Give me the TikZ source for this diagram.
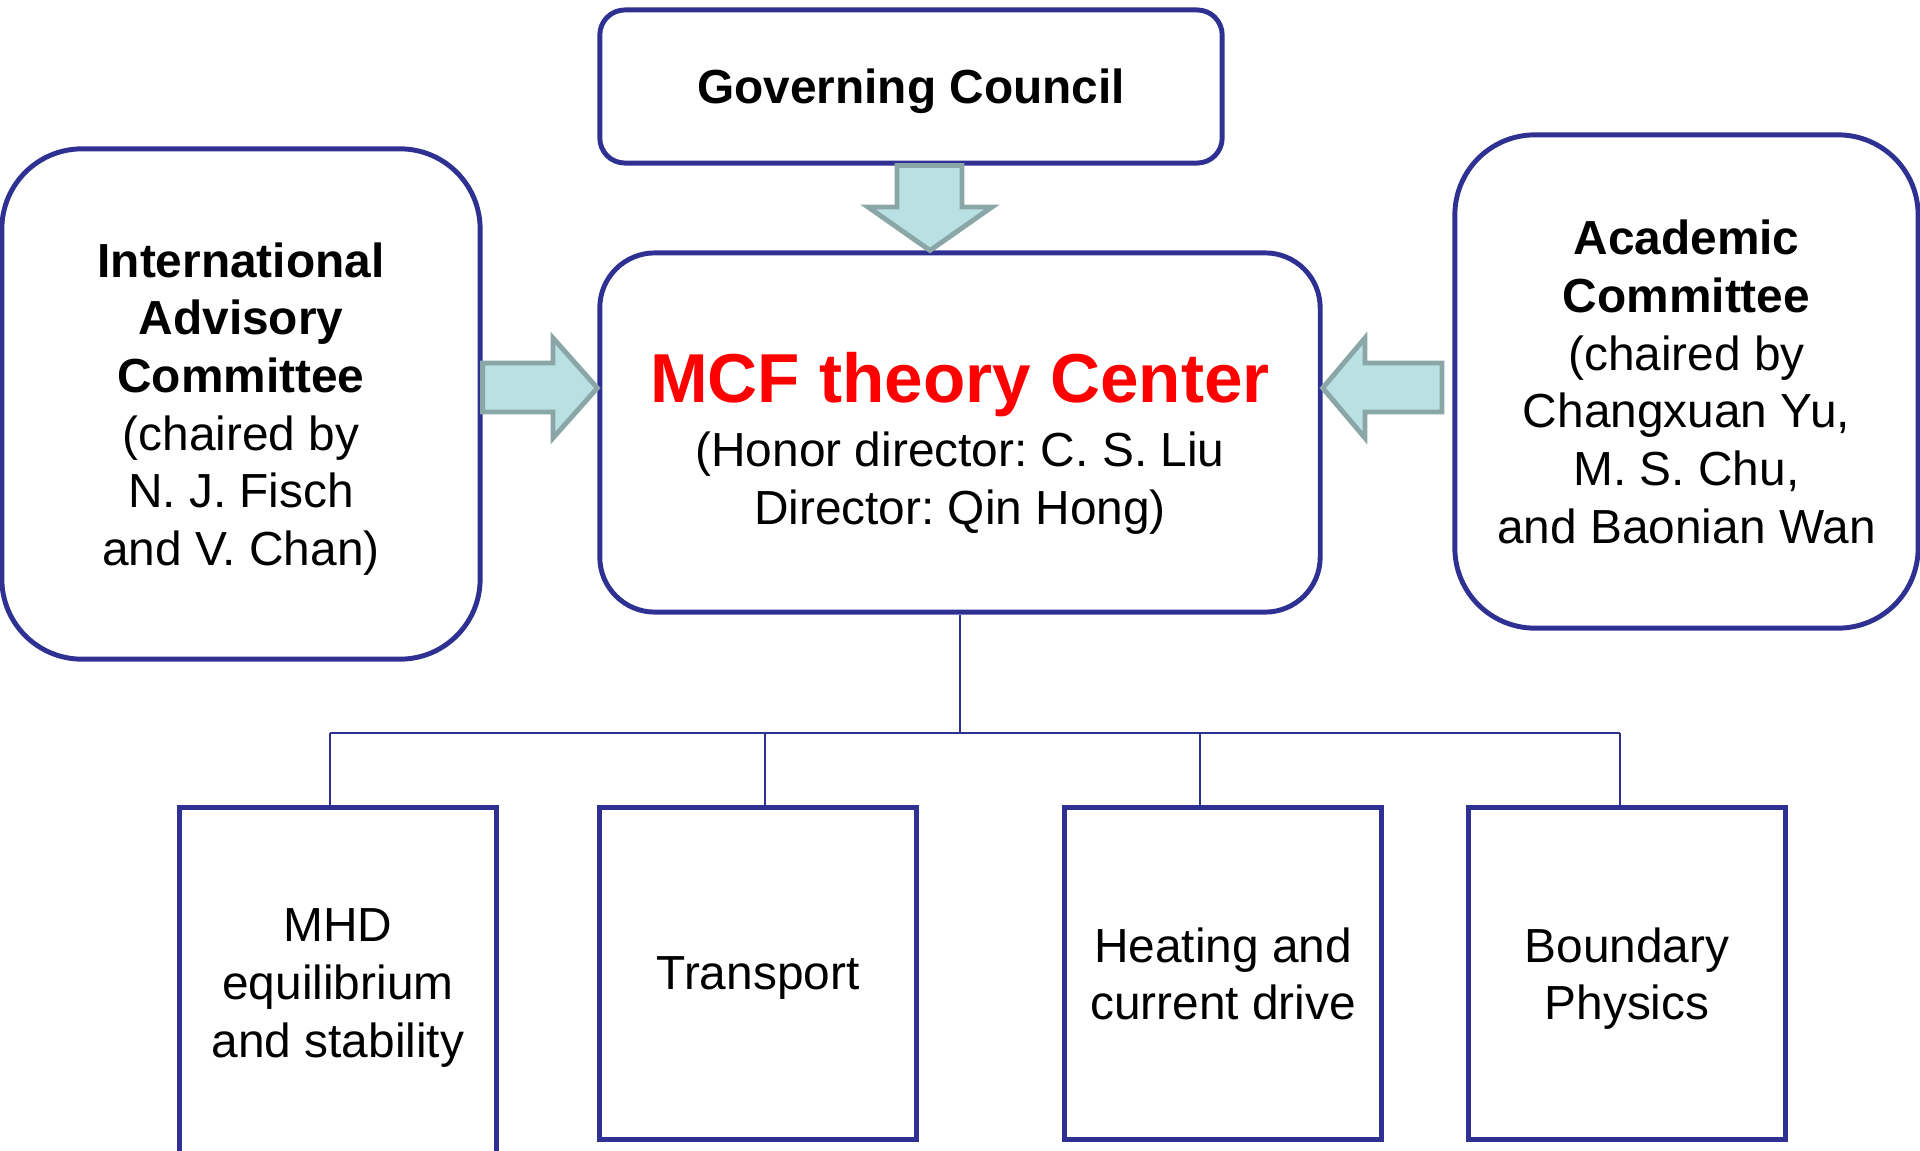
\documentclass[tikz,border=0pt]{standalone}
\usepackage{fontspec}
\setmainfont{Liberation Sans}
\frenchspacing
\definecolor{boxblue}{HTML}{2E3192}
\definecolor{arrowfill}{HTML}{B9E0E2}
\definecolor{arrowline}{HTML}{8AA6A6}
\definecolor{titlered}{HTML}{FF0000}

\begin{document}
\begin{tikzpicture}[x=0.01cm, y=-0.01cm]

    \tikzstyle{panel} = [draw=boxblue, line width=1.4pt, align=center, inner sep=0pt, text depth=0pt, font=\fontsize{13.6}{16.4}\selectfont]
    \tikzstyle{group} = [draw=boxblue, line width=1.4pt, align=center, inner sep=0pt, text depth=0pt, minimum width=3.16cm, font=\fontsize{13.6}{16.4}\selectfont]
    \tikzstyle{block} = [draw=arrowline, fill=arrowfill, line width=1.4pt, line join=miter]
    \tikzstyle{link} = [boxblue, line width=0.45pt]

    \useasboundingbox (0,0) rectangle (1920,1151);

    % top row
    \node[panel, rounded corners=0.25cm, minimum width=6.22cm, minimum height=1.53cm, font=\fontsize{13.6}{16.4}\selectfont\bfseries] (council) at (911,86.5) {Governing Council};

    \node[panel, rounded corners=0.55cm, minimum width=7.2cm, minimum height=3.59cm] (centre) at (960,432.5)
        {\rule{0pt}{17.5pt}{\fontsize{19.7}{22}\selectfont\bfseries\color{titlered}MCF theory Center}\\[2pt]
         (Honor director: C. S. Liu\\Director: Qin Hong)};

    \node[panel, rounded corners=0.8cm, minimum width=4.78cm, minimum height=5.1cm] (advisory) at (241,404)
        {\textbf{International}\\\textbf{Advisory}\\\textbf{Committee}\\(chaired by\\N. J. Fisch\\and V. Chan)};

    \node[panel, rounded corners=0.8cm, minimum width=4.63cm, minimum height=4.93cm] (academic) at (1686.5,381.5)
        {\textbf{Academic}\\\textbf{Committee}\\(chaired by\\Changxuan Yu,\\M. S. Chu,\\and Baonian Wan};

    % research groups
    \node[group, minimum height=3.5cm] (mhd) at (338,983) {MHD\\equilibrium\\and stability};
    \node[group, minimum height=3.31cm] (transport) at (758,973.5) {Transport};
    \node[group, minimum height=3.31cm] (heating) at (1223,973.5) {Heating and\\current drive};
    \node[group, minimum height=3.31cm] (boundary) at (1627,973.5) {Boundary\\Physics};

    % block arrows
    \draw[block] (897,0 |- council.south) -- (897,207) -- (868,207) -- (930,0 |- centre.north)
        -- (992,207) -- (962,207) -- (962,0 |- council.south) -- cycle;
    \draw[block] (advisory.east |- 0,363) -- (553,363) -- (553,338) -- (centre.west |- 0,388)
        -- (553,438) -- (553,412) -- (advisory.east |- 0,412) -- cycle;
    \draw[block] (centre.east |- 0,388) -- (1365,338) -- (1365,363) -- (1442,363)
        -- (1442,412) -- (1365,412) -- (1365,438) -- cycle;

    % tree
    \coordinate (bus) at (960,733);
    \coordinate (d1) at (330,733);
    \coordinate (d2) at (765,733);
    \coordinate (d3) at (1200,733);
    \coordinate (d4) at (1620,733);

    \draw[link] (centre.south) -- (bus);
    \draw[link, line width=0.6pt] (d1) -- (d4);
    \draw[link] (d1) -- (d1 |- mhd.north);
    \draw[link] (d2) -- (d2 |- transport.north);
    \draw[link] (d3) -- (d3 |- heating.north);
    \draw[link] (d4) -- (d4 |- boundary.north);
\end{tikzpicture}
\end{document}
